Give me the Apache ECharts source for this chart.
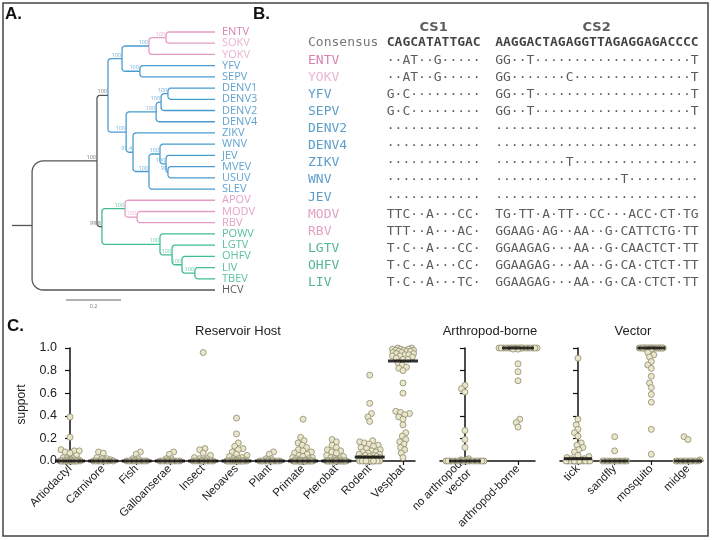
<!DOCTYPE html>
<html><head><meta charset="utf-8">
<script src="https://cdn.jsdelivr.net/npm/echarts@6/dist/echarts.min.js"></script>
<style>html,body{margin:0;padding:0;background:#fff}#c{width:714px;height:540px}</style>
</head><body><div id="c"></div>
<script>
// ================= Panel A: phylogeny (Newick, branch lengths, supports) =================
const treeNewick = "((((((ENTV:0.178,SOKV:0.178)100:0.062,YOKV:0.24)100:0.098,(YFV:0.273,SEPV:0.273)100:0.065)100:0.051,((((DENV1:0.171,DENV3:0.171)100:0.025,DENV2:0.196)100:0.018,DENV4:0.214)100:0.109,(ZIKV:0.298,((WNV:0.2,(JEV:0.178,(MVEV:0.171,USUV:0.171)99:0.007)100:0.022)100:0.04,SLEV:0.24)100:0.058)91.4:0.025)100:0.066)100:0.04,((APOV:0.327,(MODV:0.283,RBV:0.283)100:0.044)100:0.084,(POWV:0.2,(LGTV:0.156,(OHFV:0.12,(LIV:0.073,TBEV:0.073)100:0.047)100:0.036)100:0.044)100:0.211)99.8:0.018)100:0.236,HCV:0.665):0.073;";
const pinkLeaves = ['ENTV','SOKV','YOKV','APOV','MODV','RBV'];
const greenLeaves = ['POWV','LGTV','OHFV','LIV','TBEV'];
const outLeaves = ['HCV'];
const scaleBarLength = 0.2;

// ================= Panel B: CS1 / CS2 alignment =================
const alignNames = ['ENTV','YOKV','YFV','SEPV','DENV2','DENV4','ZIKV','WNV','JEV','MODV','RBV','LGTV','OHFV','LIV'];
const consensusCS1 = 'CAGCATATTGAC';
const consensusCS2 = 'AAGGACTAGAGGTTAGAGGAGACCCC';
const alignCS1 = [
  '··AT··G·····','··AT··G·····','G·C·········','G·C·········','············','············',
  '············','············','············','TTC··A···CC·','TTT··A···AC·','T·C··A···CC·',
  'T·C··A···CC·','T·C··A···TC·'];
const alignCS2 = [
  'GG··T····················T','GG·······C···············T','GG··T····················T',
  'GG··T····················T','··························','··························',
  '·········T················','················T·········','··························',
  'TG·TT·A·TT··CC···ACC·CT·TG','GGAAG·AG··AA··G·CATTCTG·TT','GGAAGAG···AA··G·CAACTCT·TT',
  'GGAAGAG···AA··G·CA·CTCT·TT','GGAAGAG···AA··G·CA·CTCT·TT'];

// ================= Panel C: support values =================
const hostNames = ['Artiodactyl','Carnivore','Fish','Galloanserae','Insect','Neoaves','Plant','Primate','Pterobat','Rodent','Vespbat'];
const artiodactyl = [0.39,0.21,0.10,0.09,0.09,0.08,0.07,0.05,0.03,0.02,0.02,0.01,0.01,0.01,0,0,0,0,0,0,0,0,0,0,0,0,0,0,0,0];
const carnivore = [0.08,0.07,0.03,0.02,0.02,0.01,0,0,0,0,0,0,0,0];
const fish = [0.08,0.06,0.02,0.02,0.01,0,0,0,0,0,0,0,0,0];
const galloanserae = [0.08,0.06,0.02,0.02,0.01,0,0,0,0,0,0,0,0,0];
const insect = [0.96,0.11,0.10,0.07,0.05,0.03,0.02,0.02,0.01,0,0,0,0,0,0,0,0,0,0];
const neoaves = [0.38,0.24,0.16,0.13,0.11,0.10,0.08,0.06,0.05,0.04,0.03,0.02,0.02,0.01,0.01,0,0,0,0,0,0,0,0,0,0,0,0,0,0,0,0];
const plant = [0.08,0.06,0.02,0.02,0.01,0,0,0,0,0,0,0,0,0];
const primate = [0.37,0.21,0.18,0.16,0.14,0.12,0.10,0.09,0.08,0.07,0.06,0.05,0.04,0.03,0.03,0.02,0.02,0.01,0.01,0,0,0,0,0,0,0,0,0,0,0,0,0,0,0,0,0,0,0,0,0,0];
const pterobat = [0.19,0.17,0.14,0.12,0.10,0.09,0.08,0.07,0.05,0.04,0.03,0.02,0.02,0.01,0,0,0,0,0,0,0,0,0,0,0,0,0,0,0,0,0,0];
const rodent = [0.76,0.51,0.42,0.39,0.35,0.18,0.17,0.16,0.15,0.14,0.13,0.12,0.11,0.10,0.09,0.08,0.08,0.07,0.06,0.06,0.05,0.05,0.04,0.04,0.03,0.03,0.02,0.02,0.02,0.01,0.01,0.01,0.01,0.01,0.01,0,0,0,0,0,0,0,0,0,0,0,0,0];
const vespbat = [1.0,1.0,0.99,0.99,0.99,0.98,0.98,0.98,0.97,0.97,0.97,0.96,0.96,0.95,0.95,0.94,0.94,0.93,0.93,0.92,0.91,0.90,0.90,0.87,0.85,0.83,0.82,0.80,0.69,0.60,0.44,0.43,0.42,0.41,0.39,0.37,0.32,0.25,0.22,0.19,0.17,0.15,0.12,0.10,0.07,0.03];

const arthropodNames = ['no arthropod\nvector','arthropod-borne'];
const noArthropod = [0.67,0.64,0.61,0.27,0.19,0.12,0.02,0.01,0.01,0,0,0,0,0,0,0,0,0,0,0,0,0,0,0,0,0,0];
const arthropodBorne = [1,1,1,1,1,1,1,1,1,1,1,1,1,1,1,1,1,1,1,1,0.99,0.99,0.86,0.79,0.71,0.37,0.34,0.30];

const vectorNames = ['tick','sandfly','mosquito','midge'];
const tick = [0.91,0.37,0.32,0.28,0.25,0.22,0.16,0.14,0.12,0.10,0.08,0.05,0.04,0.03,0.02,0.02,0.01,0,0,0,0,0,0,0,0,0,0,0,0,0,0];
const sandfly = [0.215,0.09,0,0,0,0,0,0,0,0,0,0,0];
const mosquito = [1,1,1,1,1,1,1,1,1,1,1,1,1,1,1,1,1,1,1,1,0.99,0.96,0.94,0.92,0.88,0.85,0.82,0.75,0.69,0.65,0.59,0.52,0.28,0.06];
const midge = [0.215,0.19,0.01,0,0,0,0,0,0,0,0,0,0];

// ================= Styles =================
const COL = {blue:'#4a9bd0', pink:'#e49cc4', green:'#40bd93', gray:'#555555'};
const TXT = {blue:'#3a8cc4', pink:'#dd8ab8', green:'#2fb287', out:'#333333'};
const F = 'Liberation Sans';

// ---------- Tree parsing & layout ----------
function parseNewick(s){
  let i=0;
  function node(){
    const n={children:[],name:'',len:0};
    if(s[i]==='('){ i++; n.children.push(node()); while(s[i]===','){i++; n.children.push(node());} i++; }
    let nm=''; while(i<s.length && ':,);'.indexOf(s[i])<0) nm+=s[i++]; n.name=nm;
    if(s[i]===':'){ i++; let num=''; while(i<s.length && ',);'.indexOf(s[i])<0) num+=s[i++]; n.len=parseFloat(num); }
    return n;
  }
  return node();
}
const root = parseNewick(treeNewick);
let leafIdx=0; const leaves=[]; const internals=[];
function layout(n, depth){
  n.x = depth + n.len;
  if(!n.children.length){ n.y = leafIdx++; leaves.push(n); n.groups=new Set([grp(n.name)]); }
  else {
    n.children.forEach(c=>layout(c, n.x));
    n.y = (n.children[0].y + n.children[n.children.length-1].y)/2;
    n.groups = new Set(); n.children.forEach(c=>c.groups.forEach(g=>n.groups.add(g)));
    internals.push(n);
  }
}
function grp(name){ if(pinkLeaves.includes(name)) return 'pink'; if(greenLeaves.includes(name)) return 'green'; if(outLeaves.includes(name)) return 'out'; return 'blue'; }
layout(root, 0);
function nodeColor(n){
  const g=[...n.groups];
  if(g.length===1) return g[0]==='out'?COL.gray:COL[g[0]];
  if(n.groups.has('out') || (n.groups.has('blue')&&n.groups.has('green'))) return COL.gray;
  return n.groups.has('blue')?COL.blue:COL.green;
}
const treeXmax = 0.738, treeLeft=12, treeWidth=203, treeTop=32, treeHeight=258;
const kx = treeWidth/treeXmax, ky = treeHeight/(leaves.length-1);
const edges=[];
edges.push({coords:[[0,root.y],[root.x,root.y]], color:COL.gray});
internals.forEach(p=>{
  const col=nodeColor(p);
  p.children.forEach(c=>{
    const dyPx=Math.abs(c.y-p.y)*ky, dxPx=(c.x-p.x)*kx;
    const rMax = p===root?11:3;
    const r=Math.min(rMax, dyPx, dxPx);
    const sg = c.y>p.y?1:-1;
    const pts=[[p.x,p.y],[p.x,c.y-sg*r/ky]];
    const cx=p.x+r/kx, cy=c.y-sg*r/ky;
    for(let k=1;k<=8;k++){ const t=k/8*Math.PI/2; pts.push([cx-(r/kx)*Math.cos(t), cy+sg*(r/ky)*Math.sin(t)]); }
    pts.push([c.x,c.y]);
    edges.push({coords:pts, color:col});
  });
});
const supportLabels = internals.filter(n=>n!==root && n.name).map(n=>{
  let par=null; internals.forEach(q=>{ if(q.children.includes(n)) par=q; });
  return {value:[n.x,n.y], label:{formatter:n.name, color:nodeColor(par)}};
});
const leafTextColor = name=>{
  if(name==='ENTV') return '#d0619d';
  if(name==='SOKV'||name==='YOKV') return '#e3a3c6';
  return TXT[grp(name)];
};
const scaleY = (300-treeTop)/ky;
const scaleX0 = (66-treeLeft)/kx;

// ---------- Beeswarm layout ----------
function swarm(values, halfW, pxY){
  const d=4.8;
  const order=values.map((v,i)=>i).sort((a,b)=>values[a]-values[b]);
  const cands=[]; for(let x=-halfW;x<=halfW+1e-9;x+=0.25) cands.push(x);
  cands.sort((a,b)=>Math.abs(a)-Math.abs(b)||a-b);
  const placed=[], off=new Array(values.length);
  order.forEach(i=>{
    const y=values[i]*pxY; let best=0, bestScore=-1;
    for(const x of cands){
      let m=Infinity;
      for(const p of placed){ const dd=Math.hypot(p.x-x,p.y-y); if(dd<m) m=dd; }
      if(m>=d){best=x; break;}
      if(m>bestScore+1e-6){bestScore=m; best=x;}
    }
    placed.push({x:best,y}); off[i]=best;
  });
  return off;
}
function median(a){ const s=[...a].sort((x,y)=>x-y); const n=s.length; return n%2?s[(n-1)/2]:(s[n/2-1]+s[n/2])/2; }

const panels=[
  {names:hostNames, data:[artiodactyl,carnivore,fish,galloanserae,insect,neoaves,plant,primate,pterobat,rodent,vespbat], left:60, width:355, min:-0.3, max:10.36, half:10.5, mw:30, labels:true, title:'Reservoir Host', tx:238},
  {names:arthropodNames, data:[noArthropod,arthropodBorne], left:440, width:95, min:-0.47, max:1.32, half:19, mw:32, labels:false, title:'Arthropod-borne', tx:490},
  {names:vectorNames, data:[tick,sandfly,mosquito,midge], left:560, width:143, min:-0.49, max:3.41, half:12, mw:28, labels:false, title:'Vector', tx:633}
];
const cTop=348, cHeight=113;

const grids=[
  {left:treeLeft, top:treeTop, width:treeWidth, height:treeHeight},
  {left:308, top:43-17.14, width:390, height:15*17.14}
];
const xAxes=[
  {gridIndex:0, type:'value', min:0, max:treeXmax, show:false},
  {gridIndex:1, type:'value', min:0, max:50, show:false}
];
const yAxes=[
  {gridIndex:0, type:'value', min:0, max:leaves.length-1, inverse:true, show:false},
  {gridIndex:1, type:'value', min:-1, max:14, inverse:true, show:false}
];
const series=[];
series.push({type:'lines', coordinateSystem:'cartesian2d', xAxisIndex:0, yAxisIndex:0, polyline:true, silent:true, clip:false,
  lineStyle:{width:1.3, opacity:1},
  data: edges.map(e=>({coords:e.coords, lineStyle:{color:e.color}})).concat([{coords:[[scaleX0,scaleY],[scaleX0+scaleBarLength,scaleY]], lineStyle:{color:'#666', width:1}}])
});
series.push({type:'scatter', xAxisIndex:0, yAxisIndex:0, symbolSize:0, clip:false, silent:true,
  data: leaves.map(n=>({value:[n.x,n.y], label:{show:true, position:'right', distance:7, formatter:n.name, color:leafTextColor(n.name), fontFamily:'Open Sans', fontSize:11}}))
});
series.push({type:'scatter', xAxisIndex:0, yAxisIndex:0, symbolSize:0, clip:false, silent:true,
  label:{show:true, position:[0,0], align:'right', verticalAlign:'bottom', offset:[-1,-0.5], fontFamily:'Open Sans', fontSize:5.5},
  data: supportLabels
});
series.push({type:'scatter', xAxisIndex:0, yAxisIndex:0, symbolSize:0, clip:false, silent:true,
  label:{show:true, position:'bottom', distance:3, formatter:String(scaleBarLength), fontFamily:'Open Sans', fontSize:5.5, color:'#555'},
  data:[[scaleX0+scaleBarLength/2, scaleY]]
});
const mono='DejaVu Sans Mono';
const alignColor = n=>{
  if(n==='ENTV') return '#d0619d';
  if(n==='YOKV') return '#e3a3c6';
  if(n==='MODV'||n==='RBV') return '#d98bb6';
  if(['LGTV','OHFV','LIV'].includes(n)) return '#2aa381';
  return '#3386bb';
};
const bData=[];
bData.push({value:[16.1,-0.87], label:{formatter:'CS1', position:'inside', fontFamily:'DejaVu Sans', fontWeight:'bold', color:'#333'}});
bData.push({value:[37,-0.87], label:{formatter:'CS2', position:'inside', fontFamily:'DejaVu Sans', fontWeight:'bold', color:'#333'}});
bData.push({value:[0,0], label:{formatter:'Consensus', color:'#555'}});
bData.push({value:[10.1,0], label:{formatter:consensusCS1, fontWeight:'bold', color:'#111'}});
bData.push({value:[24,0], label:{formatter:consensusCS2, fontWeight:'bold', color:'#111'}});
alignNames.forEach((n,i)=>{
  bData.push({value:[0,i+1], label:{formatter:n, color:alignColor(n)}});
  bData.push({value:[10.1,i+1], label:{formatter:alignCS1[i], color:'#333'}});
  bData.push({value:[24,i+1], label:{formatter:alignCS2[i], color:'#333'}});
});
series.push({type:'scatter', xAxisIndex:1, yAxisIndex:1, symbolSize:0, clip:false, silent:true,
  label:{show:true, position:'right', distance:0, fontFamily:mono, fontSize:13},
  data:bData});

const titles=[
  {text:'A.', left:5, top:6},
  {text:'B.', left:253, top:6},
  {text:'C.', left:7, top:318}
].map(t=>Object.assign(t,{padding:0, textStyle:{fontSize:17, fontWeight:'bold', fontFamily:F, color:'#111'}}));
panels.forEach((p,k)=>{
  const gi=k+2;
  grids.push({left:p.left, top:cTop, width:p.width, height:cHeight});
  const pxX=p.width/(p.max-p.min);
  const idx=p.names.map((_,i)=>i);
  xAxes.push({gridIndex:gi, type:'value', min:p.min, max:p.max,
    axisLine:{show:true, onZero:false, lineStyle:{color:'#111', width:1.5}},
    axisTick:{show:true, customValues:idx, length:4, lineStyle:{color:'#111', width:1.2}},
    axisLabel:{show:true, customValues:idx, rotate:45, margin:6, fontFamily:F, fontSize:11.5, color:'#222', lineHeight:13, formatter:v=>p.names[Math.round(v)]},
    splitLine:{show:false}});
  yAxes.push({gridIndex:gi, type:'value', min:0, max:1, interval:0.2,
    axisLine:{show:true, lineStyle:{color:'#111', width:1.5}},
    axisTick:{show:true, length:5, lineStyle:{color:'#111', width:1.2}},
    axisLabel:{show:p.labels, fontFamily:F, fontSize:12.5, color:'#222', margin:3, formatter:v=>v.toFixed(1)},
    splitLine:{show:false},
    name:p.labels?'support':'', nameLocation:'middle', nameGap:32, nameTextStyle:{fontFamily:F, fontSize:12, color:'#222'}});
  const pts=[], meds=[];
  p.data.forEach((arr,ci)=>{
    const off=swarm(arr, p.half, cHeight);
    arr.forEach((v,j)=>pts.push([ci+off[j]/pxX, v]));
    meds.push([ci, median(arr)]);
  });
  series.push({type:'scatter', xAxisIndex:gi, yAxisIndex:gi, symbol:'circle', symbolSize:6, clip:false, silent:true,
    itemStyle:{color:'#e9e6cc', borderColor:'#8e8a6c', borderWidth:0.8, opacity:1}, data:pts});
  series.push({type:'scatter', xAxisIndex:gi, yAxisIndex:gi, symbol:'rect', symbolSize:[p.mw,3], clip:false, silent:true, z:5,
    itemStyle:{color:'#000'}, data:meds});
  titles.push({text:p.title, left:p.tx, top:325, textAlign:'center', padding:0, textStyle:{fontFamily:F, fontSize:13, fontWeight:'normal', color:'#222'}});
});

const chart=echarts.init(document.getElementById('c'), null, {renderer:'canvas'});
chart.setOption({
  backgroundColor:'#fff', animation:false,
  title:titles, grid:grids, xAxis:xAxes, yAxis:yAxes, series:series,
  graphic:[{type:'rect', shape:{x:3,y:3,width:705,height:533}, style:{fill:'none', stroke:'#444', lineWidth:1.5}, silent:true}]
});
</script></body></html>
